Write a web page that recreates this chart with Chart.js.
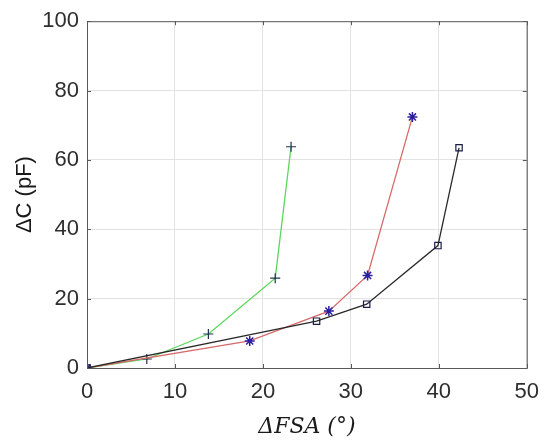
<!DOCTYPE html>
<html>
<head>
<meta charset="utf-8">
<script src="https://cdn.jsdelivr.net/npm/chart.js@4.4.1/dist/chart.umd.min.js"></script>
<style>
  html, body { margin: 0; padding: 0; background: #fff; }
  #wrap { width: 550px; height: 445px; position: relative; }
</style>
</head>
<body>
<div id="wrap"><canvas id="chart"></canvas></div>
<script>
// values
const greenX = [0, 6.8, 13.8, 21.4, 23.2];
const greenY = [0, 2.6, 9.8, 25.9, 63.8];
const redX = [0, 18.5, 27.5, 31.9, 37.0];
const redY = [0, 7.8, 16.4, 26.7, 72.4];
const blackX = [0, 26.1, 31.8, 39.9, 42.3];
const blackY = [0, 13.5, 18.4, 35.3, 63.5];
const xTicks = [0, 10, 20, 30, 40, 50];
const yTicks = [0, 20, 40, 60, 80, 100];

const toPoints = (xs, ys) => xs.map((x, i) => ({ x: x, y: ys[i] }));

// box round the plot with short inward ticks, matlab style
const boxPlugin = {
  id: "box",
  afterDraw(chart) {
    const { ctx, chartArea: a, scales } = chart;
    ctx.save();
    ctx.strokeStyle = "#5a5a5a";
    ctx.lineWidth = 1;
    ctx.strokeRect(a.left + 0.5, a.top + 0.5, a.right - a.left, a.bottom - a.top);
    ctx.beginPath();
    xTicks.forEach(v => {
      const px = Math.round(scales.x.getPixelForValue(v)) + 0.5;
      ctx.moveTo(px, a.bottom); ctx.lineTo(px, a.bottom - 4);
      ctx.moveTo(px, a.top); ctx.lineTo(px, a.top + 4);
    });
    yTicks.forEach(v => {
      const py = Math.round(scales.y.getPixelForValue(v)) + 0.5;
      ctx.moveTo(a.left, py); ctx.lineTo(a.left + 4, py);
      ctx.moveTo(a.right, py); ctx.lineTo(a.right - 4, py);
    });
    ctx.stroke();
    ctx.restore();
  }
};

const ctx = document.getElementById("chart").getContext("2d");
new Chart(ctx, {
  type: "scatter",
  data: {
    datasets: [
      {
        data: toPoints(greenX, greenY),
        showLine: true,
        borderColor: "#5cd65c",
        borderWidth: 1.3,
        pointStyle: "cross",
        pointRadius: 5,
        pointBorderColor: "#1f3050",
        pointBorderWidth: 1.2,
        pointBackgroundColor: "transparent",
        order: 3
      },
      {
        data: toPoints(redX, redY),
        showLine: true,
        borderColor: "#d86a6a",
        borderWidth: 1.3,
        pointStyle: "star",
        pointRadius: 5,
        pointBorderColor: "#2a1fa0",
        pointBorderWidth: 1.5,
        pointBackgroundColor: "transparent",
        order: 2
      },
      {
        data: toPoints(blackX, blackY),
        showLine: true,
        borderColor: "#2a2a2a",
        borderWidth: 1.3,
        pointStyle: "rect",
        pointRadius: 4.5,
        pointBorderColor: "#1a1a4a",
        pointBorderWidth: 1.2,
        pointBackgroundColor: "transparent",
        order: 1
      }
    ]
  },
  options: {
    responsive: true,
    maintainAspectRatio: false,
    animation: false,
    layout: { padding: { top: 20, right: 22, left: 0, bottom: 0 } },
    plugins: {
      legend: { display: false },
      tooltip: { enabled: false }
    },
    scales: {
      x: {
        type: "linear",
        min: 0,
        max: 50,
        afterBuildTicks: s => { s.ticks = xTicks.map(v => ({ value: v })); },
        afterFit: s => { s.height = 77; },
        ticks: {
          color: "#2e2e2e",
          padding: 11,
          font: { family: "Liberation Sans, Arial, sans-serif", size: 22 }
        },
        grid: { color: "#e2e2e2", drawTicks: false },
        border: { display: false },
        title: {
          display: true,
          text: "ΔFSA (°)",
          color: "#1a1a1a",
          padding: { top: 0, bottom: 5 },
          font: { family: "DejaVu Serif, serif", size: 22, style: "italic" }
        }
      },
      y: {
        type: "linear",
        min: 0,
        max: 100,
        afterBuildTicks: s => { s.ticks = yTicks.map(v => ({ value: v })); },
        afterFit: s => { s.width = 87; },
        ticks: {
          color: "#2e2e2e",
          padding: 8,
          font: { family: "Liberation Sans, Arial, sans-serif", size: 22 }
        },
        grid: { color: "#e2e2e2", drawTicks: false },
        border: { display: false },
        title: {
          display: true,
          text: "ΔC (pF)",
          color: "#1a1a1a",
          padding: { top: 12, bottom: 0 },
          font: { family: "Liberation Sans, Arial, sans-serif", size: 22 }
        }
      }
    }
  },
  plugins: [boxPlugin]
});
</script>
</body>
</html>
